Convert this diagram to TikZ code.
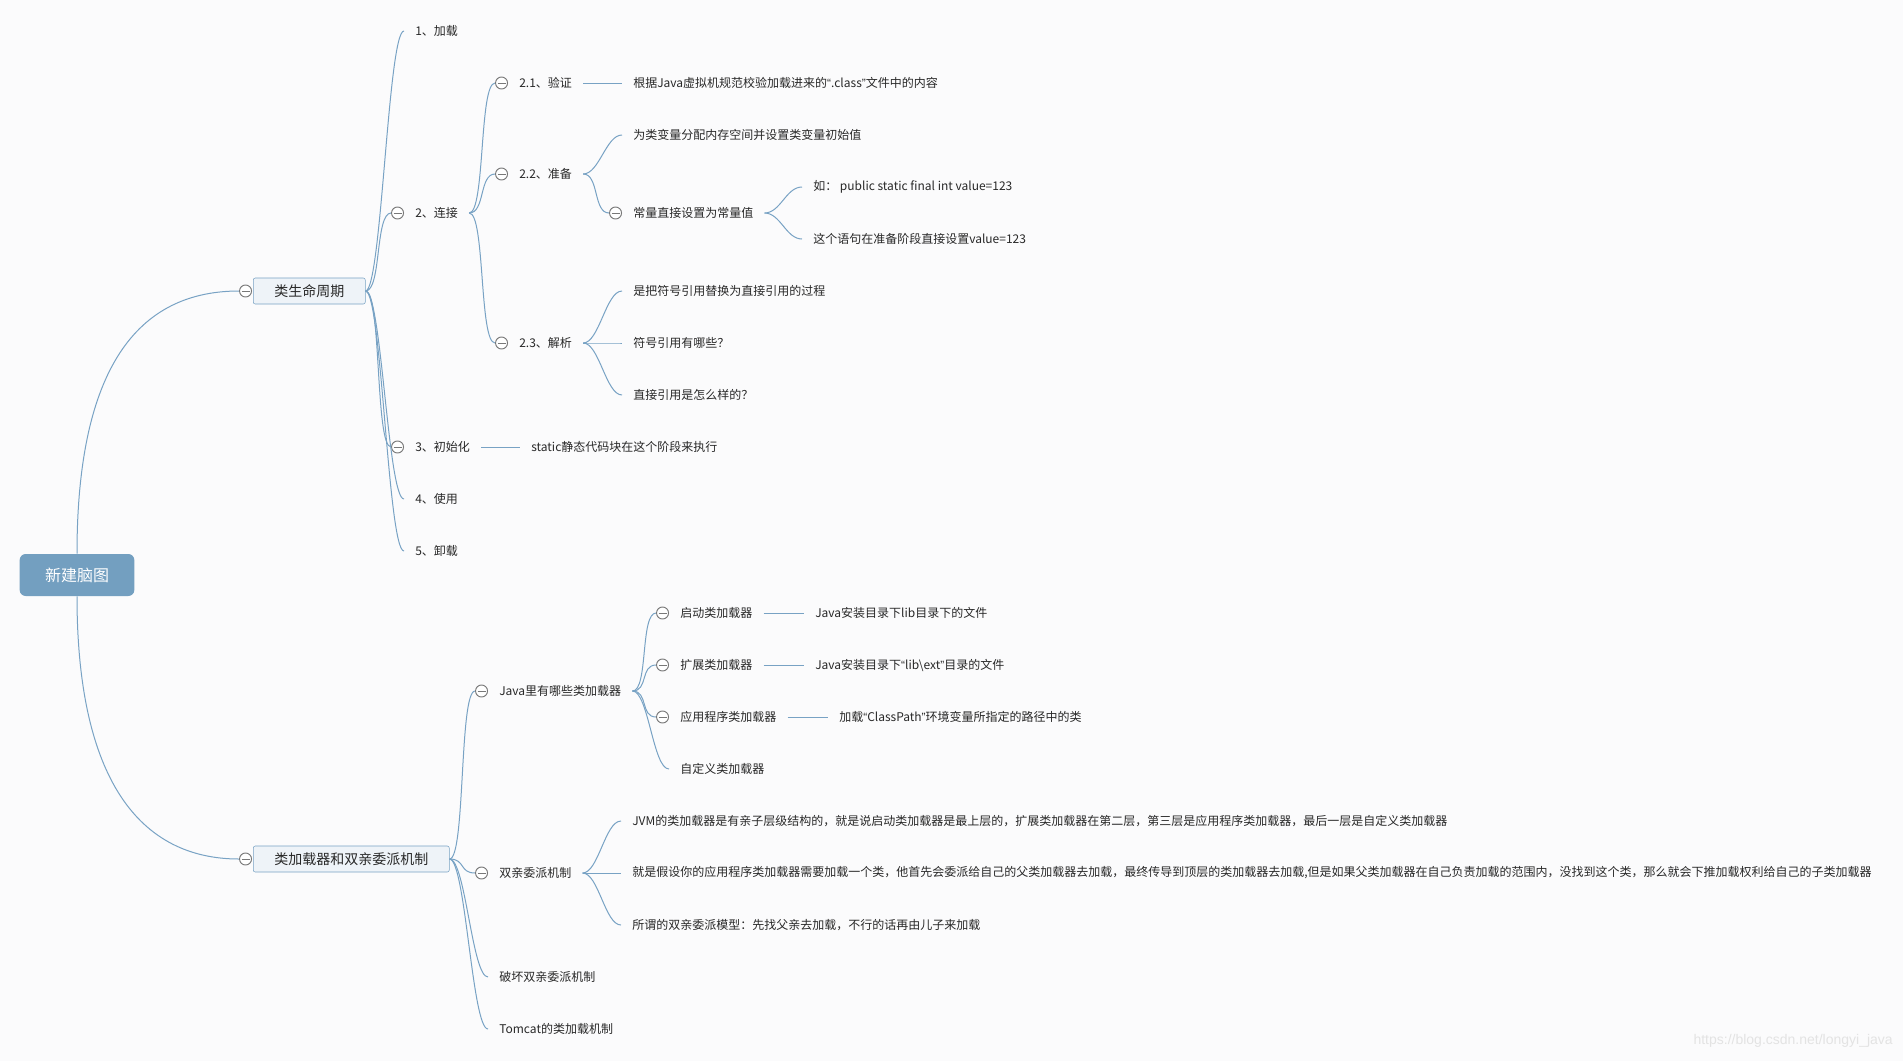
\documentclass[tikz,border=0pt]{standalone}
\usepackage{fontspec}
\setmainfont{Noto Sans CJK SC}
\newfontfamily\urlfont{Liberation Sans}
\newcommand{\openq}{{\urlfont “}}
\newcommand{\closeq}{{\urlfont ”}}
\usetikzlibrary{positioning}

\definecolor{branchblue}{RGB}{120,162,196}
\definecolor{boxfill}{RGB}{238,243,248}
\definecolor{rootfill}{RGB}{115,159,192}
\definecolor{textgray}{RGB}{40,40,40}
\definecolor{foldgray}{RGB}{120,120,120}
\definecolor{paper}{RGB}{251,251,252}

\begin{document}
\begin{tikzpicture}[x=0.75pt, y=-0.75pt,
                    every node/.style={text=textgray, font=\fontsize{9}{11}\selectfont},
                    topic/.style={anchor=west, inner xsep=8.25pt, inner ysep=2pt},
                    mainbox/.style={rectangle, draw=branchblue, fill=boxfill, rounded corners=1.5pt,
                                    anchor=west, minimum height=19.5pt, inner xsep=15.75pt,
                                    font=\fontsize{10.5}{12}\selectfont},
                    fold/.style={circle, draw=foldgray, fill=white, line width=0.7pt, minimum size=9pt, inner sep=0pt,
                                 path picture={\draw[foldgray, line width=0.7pt]
                                   ([xshift=-3pt]path picture bounding box.center) -- ([xshift=3pt]path picture bounding box.center);}},
                    branch/.style={draw=branchblue, line width=0.75pt,
                                   to path={.. controls +(16,0) and +(-16,0) .. (\tikztotarget)}},
                    link/.style={draw=branchblue, line width=0.75pt}]

\fill[paper] (0,0) rectangle (1903,1061);
\useasboundingbox (0,0) rectangle (1903,1061);

% Nodes
\node (root) at (77,575) [rectangle, fill=rootfill, rounded corners=4.5pt, minimum width=86pt, minimum height=31.5pt,
                          text=white, font=\fontsize{12}{14}\selectfont] {新建脑图};

\node (life) at (253,291) [mainbox] {类生命周期};
\node (lifec) [fold, left=0.75pt of life] {};

\node (n1) at (404,31) [topic] {1、加载};
\node (n2) at (404,213) [topic] {2、连接};
\node (c2) [fold, left=0pt of n2] {};
\node (n3) at (404,447) [topic] {3、初始化};
\node (c3) [fold, left=0pt of n3] {};
\node (l3) at (520,447) [topic] {static静态代码块在这个阶段来执行};
\node (n4) at (404,499) [topic] {4、使用};
\node (n5) at (404,551) [topic] {5、卸载};

\node (n21) at (508,83) [topic] {2.1、验证};
\node (c21) [fold, left=0pt of n21] {};
\node (l21) at (622,83) [topic] {根据Java虚拟机规范校验加载进来的\openq.class\closeq 文件中的内容};
\node (n22) at (508,174) [topic] {2.2、准备};
\node (c22) [fold, left=0pt of n22] {};
\node (n221) at (622,135) [topic] {为类变量分配内存空间并设置类变量初始值};
\node (n222) at (622,213) [topic] {常量直接设置为常量值};
\node (c222) [fold, left=0pt of n222] {};
\node (n2221) at (802,187) [topic] {如： public static final int value=123};
\node (n2222) at (802,239) [topic] {这个语句在准备阶段直接设置value=123};
\node (n23) at (508,343) [topic] {2.3、解析};
\node (c23) [fold, left=0pt of n23] {};
\node (n231) at (622,291) [topic] {是把符号引用替换为直接引用的过程};
\node (n232) at (622,343) [topic] {符号引用有哪些？};
\node (n233) at (622,395) [topic] {直接引用是怎么样的？};

\node (loader) at (253,859) [mainbox] {类加载器和双亲委派机制};
\node (loaderc) [fold, left=0.75pt of loader] {};

\node (m1) at (488,691) [topic] {Java里有哪些类加载器};
\node (cm1) [fold, left=0pt of m1] {};
\node (m11) at (669,613) [topic] {启动类加载器};
\node (cm11) [fold, left=0pt of m11] {};
\node (l11) at (804,613) [topic] {Java安装目录下lib目录下的文件};
\node (m12) at (669,665) [topic] {扩展类加载器};
\node (cm12) [fold, left=0pt of m12] {};
\node (l12) at (804,665) [topic] {Java安装目录下\openq lib\textbackslash ext\closeq 目录的文件};
\node (m13) at (669,717) [topic] {应用程序类加载器};
\node (cm13) [fold, left=0pt of m13] {};
\node (l13) at (828,717) [topic] {加载\openq ClassPath\closeq 环境变量所指定的路径中的类};
\node (m14) at (669,769) [topic] {自定义类加载器};

\node (m2) at (488,873) [topic] {双亲委派机制};
\node (cm2) [fold, left=0pt of m2] {};
\node (m21) at (621,821) [topic] {JVM的类加载器是有亲子层级结构的，就是说启动类加载器是最上层的，扩展类加载器在第二层，第三层是应用程序类加载器，最后一层是自定义类加载器};
\node (m22) at (621,873) [topic] {就是假设你的应用程序类加载器需要加载一个类，他首先会委派给自己的父类加载器去加载，最终传导到顶层的类加载器去加载,但是如果父类加载器在自己负责加载的范围内，没找到这个类，那么就会下推加载权利给自己的子类加载器};
\node (m23) at (621,925) [topic] {所谓的双亲委派模型：先找父亲去加载，不行的话再由儿子来加载};
\node (m3) at (488,977) [topic] {破坏双亲委派机制};
\node (m4) at (488,1029) [topic] {Tomcat的类加载机制};

\node (wm) at (1893,1041) [anchor=east, inner sep=0pt, text=gray!22, font=\urlfont\fontsize{10.5}{12}\selectfont] {https://blog.csdn.net/longyi\_java};

% Edges
\draw[link] (root.north) .. controls (77,380) and (130,291) .. (lifec.west);
\draw[link] (root.south) .. controls (77,780) and (140,859) .. (loaderc.west);

\draw[branch] (life.east) to (n1.west);
\draw[branch] (life.east) to (c2.west);
\draw[branch] (life.east) to (c3.west);
\draw[branch] (life.east) to (n4.west);
\draw[branch] (life.east) to (n5.west);
\draw[link] (n3.east) -- (l3.west);

\draw[branch] (n2.east) to (c21.west);
\draw[branch] (n2.east) to (c22.west);
\draw[branch] (n2.east) to (c23.west);
\draw[link] (n21.east) -- (l21.west);
\draw[branch] (n22.east) to (n221.west);
\draw[branch] (n22.east) to (c222.west);
\draw[branch] (n222.east) to (n2221.west);
\draw[branch] (n222.east) to (n2222.west);
\draw[branch] (n23.east) to (n231.west);
\draw[branch] (n23.east) to (n232.west);
\draw[branch] (n23.east) to (n233.west);

\draw[branch] (loader.east) to (cm1.west);
\draw[branch] (loader.east) to (cm2.west);
\draw[branch] (loader.east) to (m3.west);
\draw[branch] (loader.east) to (m4.west);

\draw[branch] (m1.east) to (cm11.west);
\draw[branch] (m1.east) to (cm12.west);
\draw[branch] (m1.east) to (cm13.west);
\draw[branch] (m1.east) to (m14.west);
\draw[link] (m11.east) -- (l11.west);
\draw[link] (m12.east) -- (l12.west);
\draw[link] (m13.east) -- (l13.west);

\draw[branch] (m2.east) to (m21.west);
\draw[branch] (m2.east) to (m22.west);
\draw[branch] (m2.east) to (m23.west);

\end{tikzpicture}
\end{document}
